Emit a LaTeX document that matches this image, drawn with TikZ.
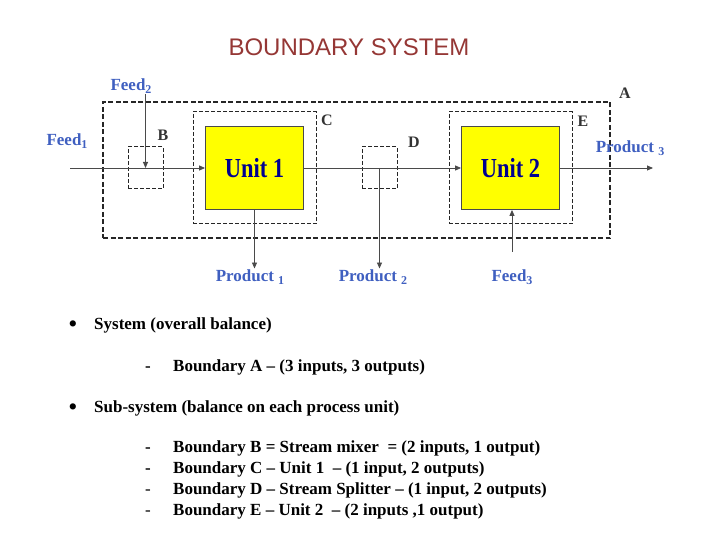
\documentclass[tikz,border=0pt]{standalone}
\usepackage{fontspec}
\usepackage{graphicx}
\setmainfont{Liberation Serif}
\newfontfamily\headfont{Liberation Sans}
\usetikzlibrary{arrows.meta}
\definecolor{bndred}{HTML}{953735}
\definecolor{bndblue}{HTML}{3F5FC0}
\definecolor{bndnavy}{HTML}{000090}
\definecolor{bndgray}{HTML}{4A4A4A}
\definecolor{bndyellow}{HTML}{FFFF00}
\newcommand{\sbs}[1]{\raisebox{-0.35ex}{\fontsize{12}{12}\selectfont #1}}
\newcommand{\blt}{{\fontsize{26}{26}\selectfont •}}

\begin{document}
\begin{tikzpicture}[x=1pt, y=-1pt,
  unitbox/.style = {draw=bndgray, fill=bndyellow, line width=0.8pt,
                    minimum width=98pt, minimum height=83pt, inner sep=0pt,
                    font=\bfseries\fontsize{25}{25}\selectfont, text=bndnavy},
  bnd/.style     = {draw=black!85, dash pattern=on 4pt off 2pt,
                    line width=1pt, inner sep=0pt},
  bndlbl/.style  = {font=\bfseries\fontsize{16}{16}\selectfont,
                    text=black!80, inner sep=0pt},
  stream/.style  = {font=\bfseries\fontsize{17}{17}\selectfont,
                    text=bndblue, inner sep=1pt},
  arr/.style     = {-{Triangle[length=6pt,width=5pt]},
                    line width=0.9pt, draw=bndgray},
  itm/.style     = {font=\bfseries\fontsize{17}{17}\selectfont,
                    anchor=west, inner sep=0pt},
  dsh/.style     = {font=\bfseries\fontsize{17}{17}\selectfont, inner sep=0pt},
]
\useasboundingbox (0,0) rectangle (720,540);
\node[font=\headfont\fontsize{24}{24}\selectfont, text=bndred] (title)
    at (349,47) {BOUNDARY SYSTEM};
% boundaries
\node[bnd, line width=1.2pt, dash pattern=on 5pt off 2.5pt,
      minimum width=507pt, minimum height=136pt] (bA) at (356.5,170) {};
\node[bnd, minimum width=123pt, minimum height=112pt] (bC) at (254.5,168) {};
\node[bnd, minimum width=123pt, minimum height=112pt] (bE) at (510.5,168) {};
\node[bnd, minimum width=35pt, minimum height=42pt] (mixB) at (145.5,168) {};
\node[bnd, minimum width=35pt, minimum height=42pt] (splitD) at (379.5,168) {};
\node[bndlbl] (lA) at (625,93)  {A};
\node[bndlbl] (lB) at (163,135) {B};
\node[bndlbl] (lC) at (327,120) {C};
\node[bndlbl] (lD) at (414,142) {D};
\node[bndlbl] (lE) at (583,121) {E};
% units
\node[unitbox] (u1) at (254.5,168) {\scalebox{0.9}[1.1]{Unit 1}};
\node[unitbox] (u2) at (510.5,168) {\scalebox{0.9}[1.1]{Unit 2}};
% streams
\node[stream] (feed1) at (67,141)   {Feed\sbs{1}};
\node[stream] (feed2) at (131,86)   {Feed\sbs{2}};
\node[stream] (feed3) at (512,277)  {Feed\sbs{3}};
\node[stream] (prod1) at (250,277)  {Product \sbs{1}};
\node[stream] (prod2) at (373,277)  {Product \sbs{2}};
\node[stream] (prod3) at (630,148)  {Product \sbs{3}};
\coordinate (in1)  at (70,168);
\coordinate (out3) at (653,168);
\draw[arr] (in1) -- (u1.west);
\draw[arr] (mixB.center |- feed2.south) -- (mixB.center);
\draw[arr] (u1.east) -- (u2.west);
\draw[arr] (u2.east) -- (out3);
\draw[arr] (u1.south) -- (u1.south |- prod1.north);
\draw[arr] (splitD.center) -- (splitD.center |- prod2.north);
\draw[arr] (u2.south -| feed3.north) ++(0,42) -- (u2.south -| feed3.north);
% balances
\node (dot1) at (73,327) {\blt};
\node[itm] (sys) at (94,325) {System (overall balance)};
\node[dsh] at (148,369) {-};
\node[itm] (sysA) at (173,367) {Boundary A -- (3 inputs, 3 outputs)};
\node (dot2) at (73,410) {\blt};
\node[itm] (sub) at (94,408) {Sub-system (balance on each process unit)};
\node[dsh] at (148,450) {-};
\node[itm] (subB) at (173,448) {Boundary B = Stream mixer \ = (2 inputs, 1 output)};
\node[dsh] at (148,471) {-};
\node[itm] (subC) at (173,469) {Boundary C -- Unit 1 \ -- (1 input, 2 outputs)};
\node[dsh, font=\fontsize{17}{17}\selectfont] at (148,492) {-};
\node[itm] (subD) at (173,490) {Boundary D -- Stream Splitter -- (1 input, 2 outputs)};
\node[dsh, font=\fontsize{17}{17}\selectfont] at (148,513) {-};
\node[itm] (subE) at (173,511) {Boundary E -- Unit 2 \ -- (2 inputs ,1 output)};
\end{tikzpicture}
\end{document}
